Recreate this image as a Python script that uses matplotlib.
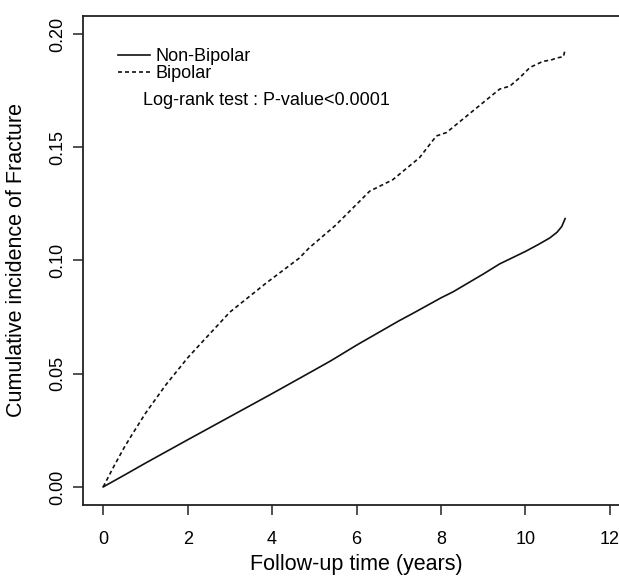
import matplotlib
matplotlib.use("Agg")
import matplotlib.pyplot as plt

plt.rcParams["font.family"] = ["Liberation Sans", "DejaVu Sans"]

# Non-Bipolar cumulative incidence
t_non = [0, 0.5, 1, 2, 3, 4, 5, 5.4, 6, 7, 7.33, 8, 8.29, 9, 9.39, 10, 10.3, 10.58, 10.75, 10.86, 10.94]
y_non = [0, 0.0052, 0.0105, 0.0208, 0.031, 0.0412, 0.0516, 0.0558, 0.0626, 0.0733, 0.0766, 0.0835, 0.0862,
         0.094, 0.0985, 0.104, 0.107, 0.110, 0.1125, 0.115, 0.1185]

# Bipolar cumulative incidence
t_bip = [0, 0.25, 0.5, 0.68, 1, 1.48, 2, 2.27, 3, 3.85, 4, 4.64, 4.88, 5.5, 6, 6.31, 6.86, 7.49, 7.89,
         8.13, 9.08, 9.39, 9.63, 9.85, 10.11, 10.42, 10.6, 10.75, 10.9, 10.94]
y_bip = [0, 0.009, 0.0175, 0.023, 0.0325, 0.045, 0.057, 0.0625, 0.0772, 0.0899, 0.092, 0.101, 0.1056,
         0.1155, 0.1248, 0.1306, 0.1357, 0.1454, 0.155, 0.1565, 0.171, 0.1757, 0.177, 0.1805, 0.1853,
         0.188, 0.1885, 0.1895, 0.190, 0.1932]

x_ticks = [0, 2, 4, 6, 8, 10, 12]
y_ticks = [0.00, 0.05, 0.10, 0.15, 0.20]
y_tick_labels = ["0.00", "0.05", "0.10", "0.15", "0.20"]

fig = plt.figure(figsize=(6.19, 5.81), dpi=100)
ax = fig.add_axes([0.134, 0.1308, 0.884, 0.8417])

ax.plot(t_non, y_non, color="#111111", linewidth=1.2, label="Non-Bipolar")
ax.plot(t_bip, y_bip, color="#111111", linewidth=1.2, linestyle=(0, (2.4, 1.8)), label="Bipolar")

ax.set_xlim(-0.48, 12.48)
ax.set_ylim(-0.008, 0.208)
ax.set_xticks(x_ticks)
ax.set_yticks(y_ticks)
ax.set_yticklabels(y_tick_labels, rotation=90, va="center")
ax.tick_params(axis="both", labelsize=13, length=7, width=1.1, color="#222222")
ax.tick_params(axis="x", pad=12)
ax.tick_params(axis="y", pad=5)
for s in ax.spines.values():
    s.set_linewidth(1.3)
    s.set_color("#222222")

ax.set_xlabel("Follow-up time (years)", fontsize=15.5, labelpad=4)
ax.set_ylabel("Cumulative incidence of Fracture", fontsize=15.5, labelpad=16)

ax.legend(loc="upper left", bbox_to_anchor=(0.064, 0.9345), frameon=False, fontsize=13,
          handlelength=1.75, handletextpad=0.35, labelspacing=0.0, borderpad=0, borderaxespad=0)
ax.text(0.1097, 0.828, "Log-rank test : P-value<0.0001", transform=ax.transAxes,
        fontsize=13, va="center", ha="left")

fig.savefig("out.png", dpi=100)
